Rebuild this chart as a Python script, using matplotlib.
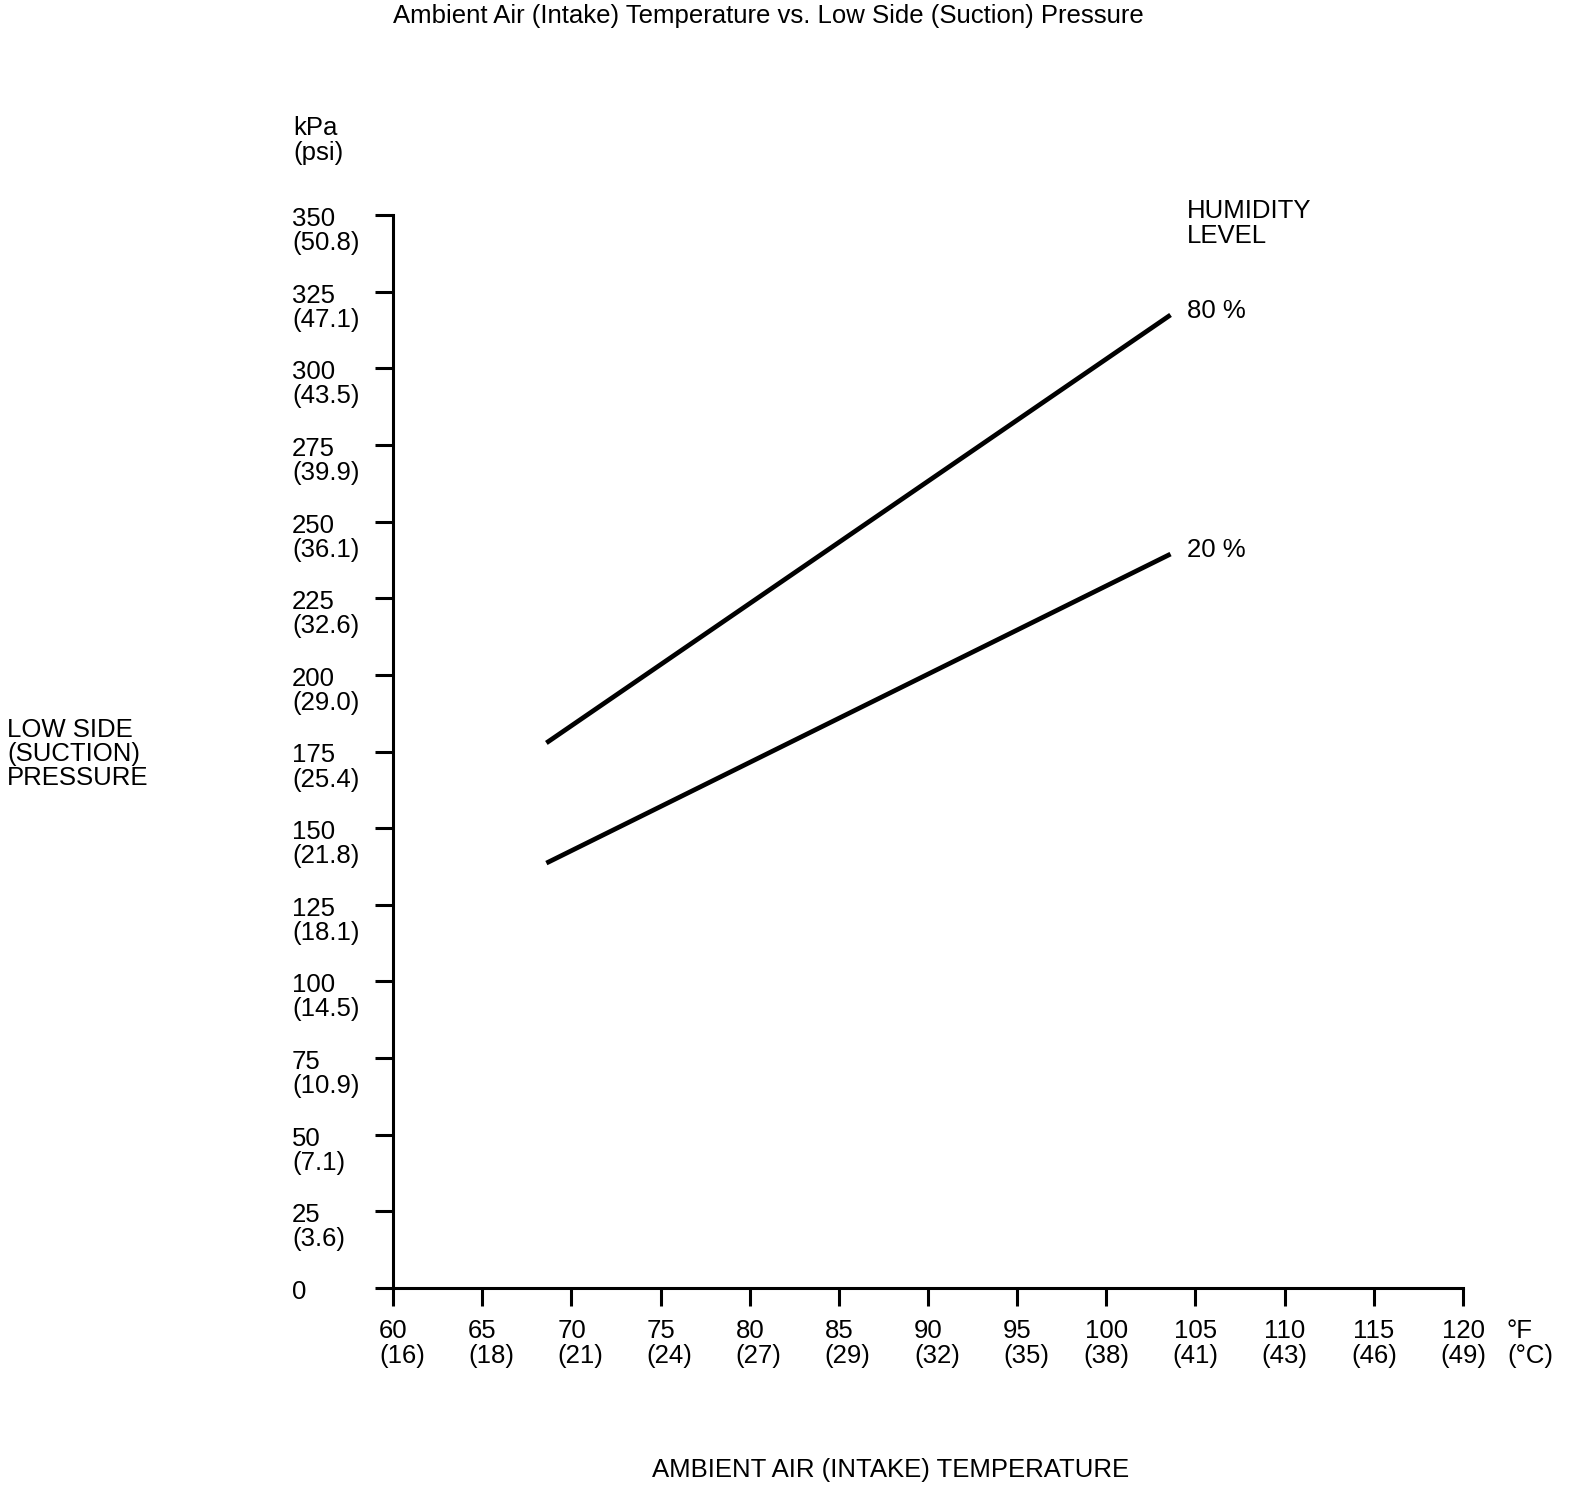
import matplotlib
matplotlib.use("Agg")
from matplotlib import pyplot as plt
from matplotlib import transforms

plt.rcParams['font.family'] = ['Liberation Sans', 'DejaVu Sans']

# axis values
temp_f = [60, 65, 70, 75, 80, 85, 90, 95, 100, 105, 110, 115, 120]
temp_c = [16, 18, 21, 24, 27, 29, 32, 35, 38, 41, 43, 46, 49]
press_kpa = [0, 25, 50, 75, 100, 125, 150, 175, 200, 225, 250, 275, 300, 325, 350]
press_psi = ["", "3.6", "7.1", "10.9", "14.5", "18.1", "21.8", "25.4", "29.0",
             "32.6", "36.1", "39.9", "43.5", "47.1", "50.8"]

# humidity lines (deg F, kPa)
hum80_temp = [68.6, 103.6]
hum80_kpa = [177.8, 317.4]
hum20_temp = [68.6, 103.6]
hum20_kpa = [138.6, 239.4]

W, H = 1584, 1492
fs = 18.5

fig = plt.figure(figsize=(W / 100, H / 100), dpi=100)
ax = fig.add_axes([393 / W, 1 - 1288 / H, 1070 / W, (1288 - 215) / H])
ax.set_xlim(60, 120)
ax.set_ylim(0, 350)
for s in ['top', 'right']:
    ax.spines[s].set_visible(False)
for s in ['left', 'bottom']:
    ax.spines[s].set_linewidth(2.2)
ax.set_xticks(temp_f)
ax.set_yticks(press_kpa)
ax.tick_params(direction='out', length=13, width=2.2, labelleft=False, labelbottom=False)

ax.plot(hum80_temp, hum80_kpa, color='black', lw=3.4, solid_capstyle='butt')
ax.plot(hum20_temp, hum20_kpa, color='black', lw=3.4, solid_capstyle='butt')

# y tick labels, two lines
ytr = transforms.blended_transform_factory(ax.transAxes, ax.transData)
y1 = transforms.offset_copy(ytr, fig=fig, y=-11, units='dots')
y2 = transforms.offset_copy(ytr, fig=fig, y=-35, units='dots')
lx = (292 - 393) / 1070
for v, p in zip(press_kpa, press_psi):
    ax.text(lx, v, str(v), transform=y1, ha='left', va='baseline', fontsize=fs)
    if p:
        ax.text(lx, v, "(" + p + ")", transform=y2, ha='left', va='baseline', fontsize=fs)

# x tick labels, two lines (two-digit ones start left of the tick, three-digit ones centred)
xtr = transforms.blended_transform_factory(ax.transData, ax.transAxes)
for f, c in zip(temp_f, temp_c):
    dx, ha = (-14, 'left') if f < 100 else (0, 'center')
    x1 = transforms.offset_copy(xtr, fig=fig, x=dx, y=-50, units='dots')
    x2 = transforms.offset_copy(xtr, fig=fig, x=dx, y=-75, units='dots')
    ax.text(f, 0, str(f), transform=x1, ha=ha, va='baseline', fontsize=fs)
    ax.text(f, 0, "(%d)" % c, transform=x2, ha=ha, va='baseline', fontsize=fs)


def ftext(px, py, s, **kw):
    fig.text(px / W, 1 - py / H, s, va='baseline', fontsize=fs, **kw)


ftext(1507, 1338, "°F")
ftext(1507, 1363, "(°C)")
ftext(293, 135, "kPa")
ftext(293, 160, "(psi)")
ftext(1187, 218, "HUMIDITY")
ftext(1187, 243, "LEVEL")
ftext(1187, 318, "80 %")
ftext(1187, 557, "20 %")
ftext(7, 737, "LOW SIDE")
ftext(7, 761, "(SUCTION)")
ftext(7, 785, "PRESSURE")
ftext(393, 23, "Ambient Air (Intake) Temperature vs. Low Side (Suction) Pressure")
ftext(891, 1477, "AMBIENT AIR (INTAKE) TEMPERATURE", ha='center')

plt.savefig("out.png", dpi=100)
